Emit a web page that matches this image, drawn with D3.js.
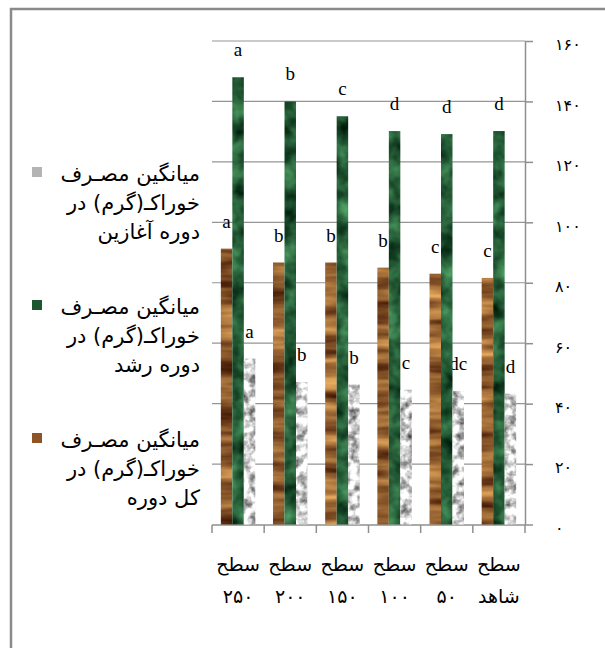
<!DOCTYPE html>
<meta charset="utf-8" />
<head>
  <style>
    body { margin: 0; background: #fff; }
    .grid line { stroke: #959595; stroke-width: 1.2; }
    .axis path, .axis line { stroke: #8f8f8f; stroke-width: 1.5; }
    .axis text { font-family: "DejaVu Sans"; font-size: 16px; letter-spacing: 4px; fill: #000; }
    .xlab { font-family: "DejaVu Sans"; font-size: 19px; fill: #000; }
    .leg { font-family: "DejaVu Sans"; font-size: 21px; fill: #000; }
    .sig { font-family: "Liberation Serif"; font-size: 19px; fill: #000; text-anchor: middle; }
  </style>
  <script src="https://d3js.org/d3.v7.min.js"></script>
</head>
<body>
  <svg width="605" height="648"></svg>
  <script>
    // categories, left to right as in the picture
    const categories = ["سطح ۲۵۰", "سطح ۲۰۰", "سطح ۱۵۰", "سطح ۱۰۰", "سطح ۵۰", "سطح شاهد"];
    const seriesKeys = ["total", "growth", "starter"];

    // feed intake (g)
    const totalValues = [91.3, 86.7, 86.7, 85.0, 83.0, 81.6];
    const growthValues = [148.0, 140.0, 135.1, 130.2, 129.2, 130.2];
    const starterValues = [54.9, 47.1, 46.3, 44.6, 44.2, 43.3];

    // significance letters
    const totalLetters = ["a", "b", "b", "b", "c", "c"];
    const growthLetters = ["a", "b", "c", "d", "d", "d"];
    const starterLetters = ["a", "b", "b", "c", "dc", "d"];

    const yTicks = [0, 20, 40, 60, 80, 100, 120, 140, 160];

    // legend order (top to bottom)
    const legendKeys = ["starter", "growth", "total"];
    const legendLines = {
      starter: ["میانگین مصـرف", "خوراکـ(گرم) در", "دوره آغازین"],
      growth: ["میانگین مصـرف", "خوراکـ(گرم) در", "دوره رشد"],
      total: ["میانگین مصـرف", "خوراکـ(گرم) در", "کل دوره"]
    };
    const legendColors = { starter: "#b4b4b4", growth: "#1d5630", total: "#8e5426" };

    const valuesByKey = { total: totalValues, growth: growthValues, starter: starterValues };
    const lettersByKey = { total: totalLetters, growth: growthLetters, starter: starterLetters };

    const faDigits = "۰۱۲۳۴۵۶۷۸۹";
    const toFa = v => String(v).replace(/[0-9]/g, c => faDigits[+c]);

    const svg = d3.select("svg");
    const defs = svg.append("defs");

    // textures: noise mapped between two colours
    function texture(id, freq, octaves, seed, c0, c1, k, bias) {
      const a = d3.rgb(c0), b = d3.rgb(c1);
      const row = (p, q) => {
        const d = (q - p) / 255;
        return [d * k, 0, 0, 0, p / 255 + d * (0.5 - k / 2 + bias)].join(" ");
      };
      const f = defs.append("filter").attr("id", id)
        .attr("x", 0).attr("y", 0).attr("width", 1).attr("height", 1)
        .attr("color-interpolation-filters", "sRGB");
      f.append("feTurbulence").attr("type", "fractalNoise")
        .attr("baseFrequency", freq).attr("numOctaves", octaves).attr("seed", seed)
        .attr("result", "n");
      f.append("feColorMatrix").attr("in", "n").attr("type", "matrix")
        .attr("values", [row(a.r, b.r), row(a.g, b.g), row(a.b, b.b), "0 0 0 0 1"].join(" "))
        .attr("result", "c");
      f.append("feComposite").attr("in", "c").attr("in2", "SourceGraphic").attr("operator", "in");
    }
    texture("tex-total", "0.01 0.08", 3, 4, "#5c2f12", "#c48b4a", 2.4, 0.05);
    texture("tex-growth", "0.05", 3, 7, "#103a1f", "#438c58", 2.2, -0.1);
    texture("tex-starter", "0.12", 3, 2, "#7a7a7a", "#ececec", 3.0, 0.25);

    const x = d3.scaleBand().domain(categories).range([212, 525]).padding(0);
    const xs = d3.scaleBand().domain(seriesKeys).range([0, x.bandwidth()])
      .paddingInner(0).paddingOuter(0.77);
    const y = d3.scaleLinear().domain([0, 160]).range([524.5, 41]);

    // frame
    svg.append("rect").attr("x", 11).attr("y", 9).attr("width", 640).attr("height", 680)
      .attr("fill", "none").attr("stroke", "#8a8a8a").attr("stroke-width", 2.5);

    // gridlines
    svg.append("g").attr("class", "grid")
      .selectAll("line").data(yTicks.filter(d => d > 0)).enter().append("line")
      .attr("x1", 212).attr("x2", 525)
      .attr("y1", d => y(d)).attr("y2", d => y(d));

    // right axis
    const yAxis = svg.append("g").attr("class", "axis")
      .attr("transform", "translate(525,0)")
      .call(d3.axisRight(y).tickValues(yTicks).tickSize(8).tickSizeOuter(0)
        .tickPadding(22).tickFormat(toFa));
    yAxis.selectAll("text").attr("dy", "0.55em");

    // bottom axis with ticks between categories
    const xAxis = svg.append("g").attr("class", "axis");
    xAxis.append("line").attr("x1", 212).attr("x2", 525).attr("y1", 525).attr("y2", 525);
    xAxis.selectAll(".tk").data(categories.map(c => x(c)).concat([x.range()[1]]))
      .enter().append("line").attr("class", "tk")
      .attr("x1", d => d).attr("x2", d => d).attr("y1", 525).attr("y2", 533);

    // category labels (two lines)
    const xl = svg.selectAll(".xlab").data(categories).enter().append("text")
      .attr("class", "xlab").attr("text-anchor", "middle");
    xl.append("tspan").attr("x", d => x(d) + x.bandwidth() / 2).attr("y", 571)
      .text(d => d.split(" ")[0]);
    xl.append("tspan").attr("x", d => x(d) + x.bandwidth() / 2).attr("y", 603)
      .style("letter-spacing", "5px")
      .text(d => d.split(" ")[1]);

    // letters first, bars drawn over them
    seriesKeys.forEach(k => {
      svg.selectAll(".sig-" + k).data(categories).enter().append("text")
        .attr("class", "sig sig-" + k)
        .attr("x", (d, i) => x(d) + xs(k) + xs.bandwidth() / 2)
        .attr("y", (d, i) => y(valuesByKey[k][i]) - 21)
        .text((d, i) => lettersByKey[k][i]);
    });

    seriesKeys.forEach(k => {
      svg.selectAll(".bar-" + k).data(categories).enter().append("rect")
        .attr("class", "bar-" + k)
        .attr("x", d => x(d) + xs(k))
        .attr("y", (d, i) => y(valuesByKey[k][i]))
        .attr("width", xs.bandwidth())
        .attr("height", (d, i) => y(0) - y(valuesByKey[k][i]))
        .attr("fill", "#888")
        .attr("filter", "url(#tex-" + k + ")");
    });

    // legend
    const leg = svg.selectAll(".legend").data(legendKeys).enter().append("g")
      .attr("class", "legend")
      .attr("transform", (d, i) => "translate(0," + (167 + i * 133) + ")");
    leg.append("rect").attr("x", 32).attr("y", 0).attr("width", 10).attr("height", 10)
      .attr("fill", d => legendColors[d]);
    leg.each(function (k) {
      d3.select(this).selectAll("text").data(legendLines[k]).enter().append("text")
        .attr("class", "leg").attr("text-anchor", "end")
        .attr("x", 200).attr("y", (d, i) => 14 + i * 29)
        .text(d => d);
    });
  </script>
</body>
